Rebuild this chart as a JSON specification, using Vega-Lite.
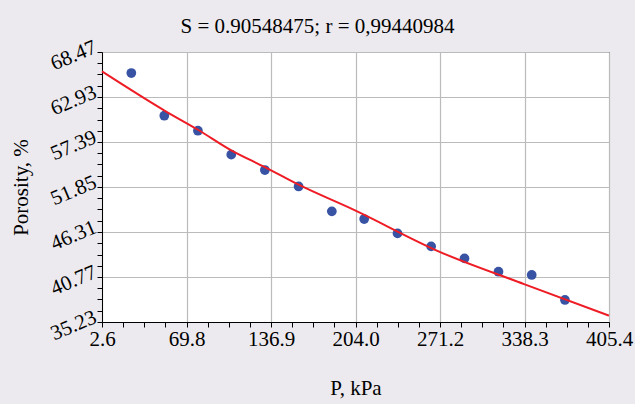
{
  "$schema": "https://vega.github.io/schema/vega-lite/v6.json",
  "width": 507,
  "height": 270,
  "autosize": {"type": "none"},
  "padding": {"left": 102, "top": 52, "right": 26, "bottom": 82},
  "background": "#ECEAEE",
  "view": {"fill": "white", "stroke": "black", "strokeWidth": 1},
  "title": {
    "text": "S = 0.90548475; r = 0,99440984",
    "font": "Liberation Serif",
    "fontSize": 21,
    "fontWeight": "normal",
    "color": "black",
    "anchor": "middle",
    "dx": -38,
    "offset": -1
  },
  "datasets": {
    "points": [
      {"P": 25.9, "porosity": 65.88},
      {"P": 52.1, "porosity": 60.63},
      {"P": 78.8, "porosity": 58.78},
      {"P": 105.3, "porosity": 55.83},
      {"P": 132.0, "porosity": 53.94},
      {"P": 158.8, "porosity": 51.92},
      {"P": 185.2, "porosity": 48.85},
      {"P": 210.9, "porosity": 47.91},
      {"P": 237.4, "porosity": 46.14},
      {"P": 264.1, "porosity": 44.54},
      {"P": 290.6, "porosity": 43.06},
      {"P": 317.6, "porosity": 41.42},
      {"P": 344.0, "porosity": 41.02},
      {"P": 370.4, "porosity": 37.94}
    ],
    "fit": [
      {"P": 2.6, "porosity": 66.08},
      {"P": 52.9, "porosity": 61.2},
      {"P": 78.8, "porosity": 58.9},
      {"P": 105.3, "porosity": 56.36},
      {"P": 132.0, "porosity": 54.3},
      {"P": 158.8, "porosity": 52.13},
      {"P": 203.2, "porosity": 49.0},
      {"P": 270.4, "porosity": 43.9},
      {"P": 337.9, "porosity": 39.9},
      {"P": 405.4, "porosity": 36.01}
    ]
  },
  "encoding": {
    "x": {
      "field": "P",
      "type": "quantitative",
      "scale": {"domain": [2.6, 405.4], "nice": false, "zero": false},
      "axis": {
        "title": "P, kPa",
        "values": [2.6, 19.4, 36.2, 53.0, 69.8, 86.575, 103.35, 120.125, 136.9, 153.675, 170.45, 187.225, 204, 220.8, 237.6, 254.4, 271.2, 287.975, 304.75, 321.525, 338.3, 355.075, 371.85, 388.625, 405.4],
        "labelExpr": "indexof([2.6,69.8,136.9,204,271.2,338.3,405.4], datum.value) >= 0 ? format(datum.value, '.1f') : ''",
        "ticks": true,
        "tickSize": 5,
        "gridOpacity": {"condition": {"test": "indexof([2.6,69.8,136.9,204,271.2,338.3,405.4], datum.value) >= 0", "value": 1}, "value": 0},
        "labelFlush": false,
        "labelOverlap": false,
        "labelPadding": 1,
        "titlePadding": 28
      }
    },
    "y": {
      "field": "porosity",
      "type": "quantitative",
      "scale": {"domain": [35.23, 68.47], "nice": false, "zero": false},
      "axis": {
        "title": "Porosity, %",
        "values": [35.23, 36.615, 38.0, 39.385, 40.77, 42.155, 43.54, 44.925, 46.31, 47.695, 49.08, 50.465, 51.85, 53.235, 54.62, 56.005, 57.39, 58.775, 60.16, 61.545, 62.93, 64.315, 65.7, 67.085, 68.47],
        "labelExpr": "indexof([35.23,40.77,46.31,51.85,57.39,62.93,68.47], datum.value) >= 0 ? format(datum.value, '.2f') : ''",
        "ticks": true,
        "tickSize": 5,
        "gridOpacity": {"condition": {"test": "indexof([35.23,40.77,46.31,51.85,57.39,62.93,68.47], datum.value) >= 0", "value": 1}, "value": 0},
        "labelAngle": -23,
        "labelAlign": "right",
        "labelBaseline": "middle",
        "labelOffset": -6,
        "labelOverlap": false,
        "labelPadding": 2,
        "titlePadding": 16
      }
    }
  },
  "layer": [
    {
      "data": {"name": "points"},
      "mark": {"type": "circle", "size": 95, "color": "#3853A4", "opacity": 1}
    },
    {
      "data": {"name": "fit"},
      "mark": {"type": "line", "color": "#EE1C25", "strokeWidth": 2, "interpolate": "monotone"}
    }
  ],
  "config": {
    "axis": {
      "labelFont": "Liberation Serif",
      "labelFontSize": 21,
      "labelColor": "black",
      "titleFont": "Liberation Serif",
      "titleFontSize": 21,
      "titleFontWeight": "normal",
      "titleColor": "black",
      "domainColor": "black",
      "domainWidth": 1,
      "tickColor": "black",
      "tickWidth": 1,
      "tickOpacity": 1,
      "gridColor": "#BBBBBB",
      "gridWidth": 1.2
    }
  }
}
